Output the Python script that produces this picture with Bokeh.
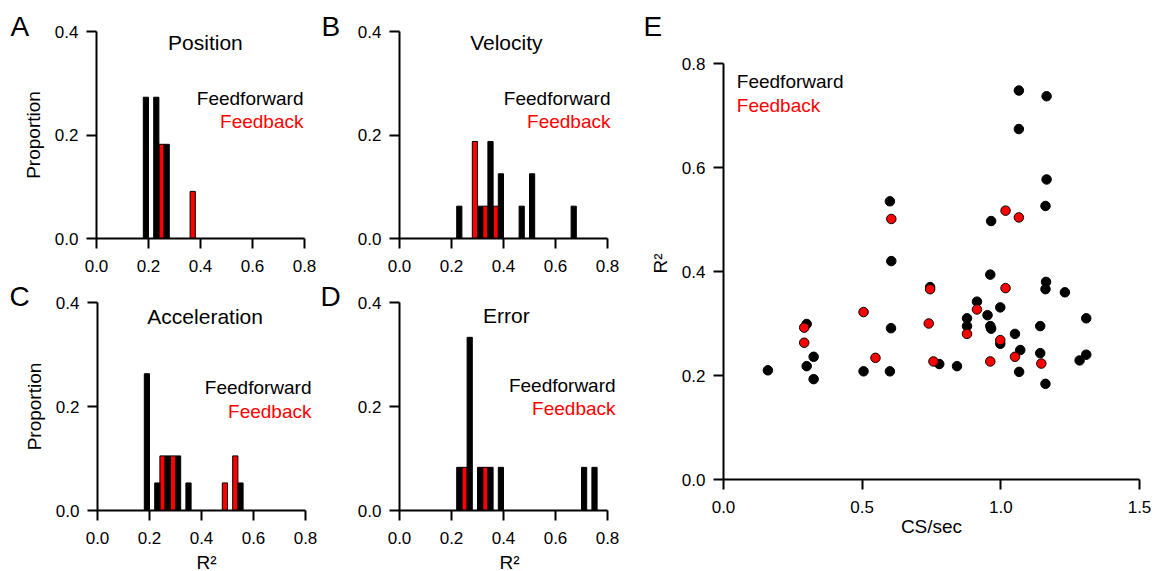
from bokeh.plotting import figure
from bokeh.models import Range1d, FixedTicker, PrintfTickFormatter, Label, ColumnDataSource
from bokeh.layouts import row, column
from bokeh.embed import file_html
from bokeh.resources import INLINE

FONT = "Liberation Sans"
BIN_W = 0.02

# ---- Histogram data (bin centres, proportions) ----
pos_ff_bins = [0.19, 0.23, 0.27]
pos_ff_prop = [0.273, 0.273, 0.182]
pos_fb_bins = [0.25, 0.37]
pos_fb_prop = [0.182, 0.091]

vel_ff_bins = [0.23, 0.31, 0.35, 0.39, 0.47, 0.51, 0.67]
vel_ff_prop = [0.0625, 0.0625, 0.1875, 0.125, 0.0625, 0.125, 0.0625]
vel_fb_bins = [0.29, 0.33, 0.37]
vel_fb_prop = [0.1875, 0.0625, 0.0625]

acc_ff_bins = [0.19, 0.23, 0.27, 0.31, 0.35, 0.55]
acc_ff_prop = [0.263, 0.053, 0.105, 0.105, 0.053, 0.053]
acc_fb_bins = [0.25, 0.29, 0.49, 0.53]
acc_fb_prop = [0.105, 0.105, 0.053, 0.105]

err_ff_bins = [0.23, 0.27, 0.31, 0.35, 0.39, 0.71, 0.75]
err_ff_prop = [0.083, 0.333, 0.083, 0.083, 0.083, 0.083, 0.083]
err_fb_bins = [0.25, 0.33]
err_fb_prop = [0.083, 0.083]

hist_xticks = [0.0, 0.2, 0.4, 0.6, 0.8]
hist_yticks = [0.0, 0.2, 0.4]

# ---- Scatter data (CS/sec, R^2) ----
ff_cs = [0.16, 0.30, 0.30, 0.325, 0.325, 0.505, 0.60, 0.605, 0.604, 0.600,
         0.745, 0.778, 0.842, 0.878, 0.878, 0.914, 0.952, 0.962, 0.962, 0.965,
         0.965, 0.998, 0.998, 1.051, 1.065, 1.065, 1.070, 1.066, 1.142, 1.142,
         1.165, 1.165, 1.161, 1.163, 1.161, 1.161, 1.231, 1.284, 1.308, 1.308]
ff_r2 = [0.210, 0.299, 0.218, 0.236, 0.193, 0.208, 0.535, 0.420, 0.291, 0.208,
         0.370, 0.222, 0.218, 0.310, 0.295, 0.342, 0.316, 0.394, 0.295, 0.290,
         0.497, 0.331, 0.261, 0.280, 0.748, 0.674, 0.249, 0.207, 0.295, 0.243,
         0.737, 0.577, 0.526, 0.380, 0.366, 0.184, 0.360, 0.229, 0.310, 0.240]
fb_cs = [0.291, 0.291, 0.505, 0.548, 0.605, 0.745, 0.740, 0.757, 0.914, 0.878,
         0.962, 0.998, 1.017, 1.065, 1.017, 1.051, 1.146]
fb_r2 = [0.292, 0.263, 0.322, 0.234, 0.501, 0.366, 0.300, 0.227, 0.327, 0.280,
         0.227, 0.268, 0.517, 0.504, 0.368, 0.236, 0.223]

sc_xticks = [0.0, 0.5, 1.0, 1.5]
sc_yticks = [0.0, 0.2, 0.4, 0.6, 0.8]


def style_axes(p, xticks, yticks):
    for ax, ticks in ((p.xaxis[0], xticks), (p.yaxis[0], yticks)):
        ax.ticker = FixedTicker(ticks=ticks)
        ax.formatter = PrintfTickFormatter(format="%.1f")
        ax.bounds = (ticks[0], ticks[-1])
        ax.axis_line_width = 2
        ax.axis_line_color = "black"
        ax.major_tick_line_width = 2
        ax.major_tick_line_color = "black"
        ax.major_tick_out = 10
        ax.major_tick_in = 0
        ax.minor_tick_line_color = None
        ax.major_label_text_font = FONT
        ax.major_label_text_font_size = "17px"
        ax.major_label_text_color = "black"
        ax.axis_label_text_font = FONT
        ax.axis_label_text_font_size = "19px"
        ax.axis_label_text_font_style = "normal"
        ax.axis_label_text_color = "black"
    p.xaxis.major_label_standoff = 11
    p.yaxis.major_label_standoff = 8
    p.xgrid.grid_line_color = None
    p.ygrid.grid_line_color = None
    p.outline_line_color = None
    p.background_fill_color = "white"
    p.border_fill_color = "white"


def set_letter(p, letter, offset, standoff):
    p.title.text = letter
    p.title.text_font = FONT
    p.title.text_font_size = "28px"
    p.title.text_font_style = "normal"
    p.title.text_color = "black"
    p.title.align = "left"
    p.title.vertical_align = "bottom"
    p.title.offset = offset
    p.title.standoff = standoff


def add_label(p, x, y, text, size, color="black", align="center"):
    p.add_layout(Label(x=x, y=y, text=text, text_font=FONT, text_font_size=size,
                       text_color=color, text_align=align, text_baseline="middle"))


def hist_panel(ff_bins, ff_prop, fb_bins, fb_prop, title, letter, top,
               ylabel, xlabel, left_border, ext, geo):
    fw = 208 + ext
    p = figure(frame_width=fw, frame_height=geo["fh"], x_range=Range1d(0, 0.8 * fw / 208),
               y_range=Range1d(0, 0.4), output_backend="svg", toolbar_location=None,
               min_border_left=left_border, min_border_right=320 - left_border - fw,
               min_border_top=geo["tb"], min_border_bottom=geo["bb"])
    style_axes(p, hist_xticks, hist_yticks)
    if ylabel:
        p.yaxis.axis_label = ylabel
        p.yaxis.axis_label_standoff = 8
    if xlabel:
        p.xaxis.axis_label = xlabel
        p.xaxis.axis_label_standoff = 5
    fb = ColumnDataSource(dict(l=[b - BIN_W / 2 for b in fb_bins],
                               r=[b + BIN_W / 2 for b in fb_bins], t=fb_prop))
    ff = ColumnDataSource(dict(l=[b - BIN_W / 2 for b in ff_bins],
                               r=[b + BIN_W / 2 for b in ff_bins], t=ff_prop))
    p.quad(left="l", right="r", top="t", bottom=0, source=fb,
           fill_color="red", line_color="black", line_width=1)
    p.quad(left="l", right="r", top="t", bottom=0, source=ff,
           fill_color="black", line_color="black", line_width=1)
    add_label(p, title[1], title[2], title[0], "21px")
    set_letter(p, letter[0], letter[1], geo["ls"])
    add_label(p, top[0], top[1], "Feedforward", "19px", "black", "right")
    add_label(p, top[0], top[2], "Feedback", "19px", "red", "right")
    return p


geo_top = dict(fh=207, tb=31, bb=42, ls=-20)
geo_bot = dict(fh=208, tb=22, bb=61, ls=-18)

pA = hist_panel(pos_ff_bins, pos_ff_prop, pos_fb_bins, pos_fb_prop,
                ("Position", 0.419, 0.379), ("A", -86),
                (0.796, 0.2705, 0.226), "Proportion", None, 96, 4, geo_top)
pB = hist_panel(vel_ff_bins, vel_ff_prop, vel_fb_bins, vel_fb_prop,
                ("Velocity", 0.411, 0.379), ("B", -78),
                (0.8115, 0.2705, 0.226), None, None, 79, 8, geo_top)
pC = hist_panel(acc_ff_bins, acc_ff_prop, acc_fb_bins, acc_fb_prop,
                ("Acceleration", 0.414, 0.373), ("C", -88),
                (0.823, 0.2365, 0.190), "Proportion", "R²", 97, 10, geo_bot)
pD = hist_panel(err_ff_bins, err_ff_prop, err_fb_bins, err_fb_prop,
                ("Error", 0.411, 0.375), ("D", -79),
                (0.831, 0.240, 0.196), None, "R²", 79, 12, geo_bot)

E_TOP = 47
e_fh = 432
pE = figure(frame_width=416, frame_height=e_fh, x_range=Range1d(0, 1.5),
            y_range=Range1d(0, 0.8 * e_fh / 416), output_backend="svg",
            toolbar_location=None, min_border_left=83, min_border_right=19,
            min_border_top=E_TOP, min_border_bottom=92)
style_axes(pE, sc_xticks, sc_yticks)
pE.xaxis.axis_label = "CS/sec"
pE.xaxis.axis_label_standoff = 0
pE.yaxis.axis_label = "R²"
pE.yaxis.axis_label_standoff = 8
pE.scatter(ff_cs, ff_r2, size=9.5, fill_color="black", line_color="black", line_width=1)
pE.scatter(fb_cs, fb_r2, size=9.5, fill_color="red", line_color="black", line_width=1)
add_label(pE, 0.048, 0.765, "Feedforward", "19px", "black", "left")
add_label(pE, 0.048, 0.720, "Feedback", "19px", "red", "left")
set_letter(pE, "E", -80, 12)

layout = row(column(row(pA, pB), row(pC, pD)), pE)

open("out.html", "w").write(file_html(layout, INLINE))
